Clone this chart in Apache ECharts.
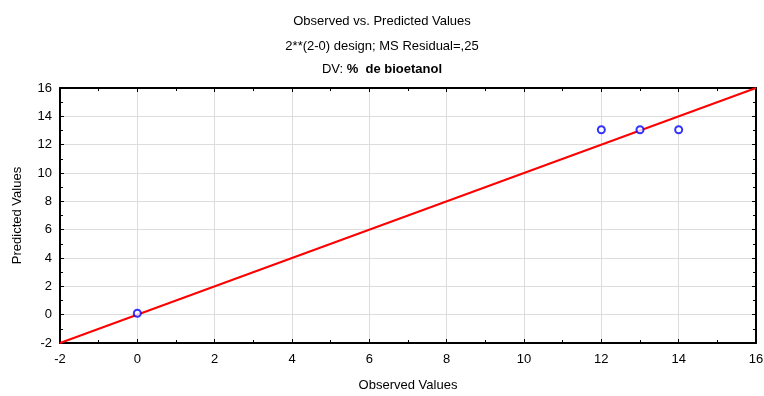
<!DOCTYPE html>
<html>
<head>
<meta charset="utf-8">
<script src="https://cdn.jsdelivr.net/npm/echarts@6/dist/echarts.min.js"></script>
<style>
  html, body { margin: 0; padding: 0; background: #fff; }
  #chart { width: 764px; height: 396px; }
</style>
</head>
<body>
<div id="chart"></div>
<script>
const observed = [0, 12, 13, 14]
const predicted = [0.1, 13.05, 13.05, 13.05]
const fitLine = [[-2, -2], [16, 16]]
const axisMin = -2
const axisMax = 16

const chart = echarts.init(document.getElementById('chart'))
const font = 'Liberation Sans, Arial, sans-serif'

const tickCommon = {
    axisLine: { show: true, onZero: false, lineStyle: { color: '#000', width: 2 } },
    axisTick: { show: true, inside: true, length: 4, lineStyle: { color: '#000' } },
    minorTick: { show: true, splitNumber: 2, length: 3, lineStyle: { color: '#000' } },
}

chart.setOption({
    animation: false,
    title: {
        left: 'center',
        top: 10,
        text: 'Observed vs. Predicted Values',
        subtext: '2**(2-0) design; MS Residual=,25\n{n|DV: }{b|%  de bioetanol}',
        itemGap: 7,
        textStyle: { fontFamily: font, fontSize: 13, fontWeight: 'normal', color: '#000' },
        subtextStyle: {
            fontFamily: font, fontSize: 13, color: '#000', lineHeight: 23,
            rich: {
                n: { fontFamily: font, fontSize: 13, color: '#000' },
                b: { fontFamily: font, fontSize: 13, color: '#000', fontWeight: 'bold' }
            }
        }
    },
    grid: { left: 60, right: 8, top: 88, bottom: 53, outerBoundsMode: 'none', containLabel: false },
    xAxis: [
        {
            type: 'value', min: axisMin, max: axisMax, interval: 2,
            name: 'Observed Values', nameLocation: 'middle', nameGap: 36,
            nameTextStyle: { fontFamily: font, fontSize: 13, color: '#000' },
            axisLabel: { fontFamily: font, fontSize: 13, color: '#000', margin: 10 },
            splitLine: { show: true, lineStyle: { color: '#dddddd' } },
            ...tickCommon
        },
        {
            type: 'value', position: 'top', min: axisMin, max: axisMax, interval: 2,
            axisLabel: { show: false }, splitLine: { show: false },
            ...tickCommon
        }
    ],
    yAxis: [
        {
            type: 'value', min: axisMin, max: axisMax, interval: 2,
            name: 'Predicted Values', nameLocation: 'middle', nameGap: 36,
            nameTextStyle: { fontFamily: font, fontSize: 13, color: '#000' },
            axisLabel: { fontFamily: font, fontSize: 13, color: '#000', margin: 8 },
            splitLine: { show: true, lineStyle: { color: '#dddddd' } },
            ...tickCommon
        },
        {
            type: 'value', position: 'right', min: axisMin, max: axisMax, interval: 2,
            axisLabel: { show: false }, splitLine: { show: false },
            ...tickCommon
        }
    ],
    series: [
        {
            type: 'line',
            data: fitLine,
            symbol: 'none',
            lineStyle: { color: '#ff0000', width: 2 },
            z: 3
        },
        {
            type: 'scatter',
            data: observed.map((v, i) => [v, predicted[i]]),
            symbol: 'emptyCircle',
            symbolSize: 7,
            itemStyle: { color: '#0000ff', borderColor: '#0000ff', borderWidth: 2 },
            z: 4
        }
    ]
})
</script>
</body>
</html>
